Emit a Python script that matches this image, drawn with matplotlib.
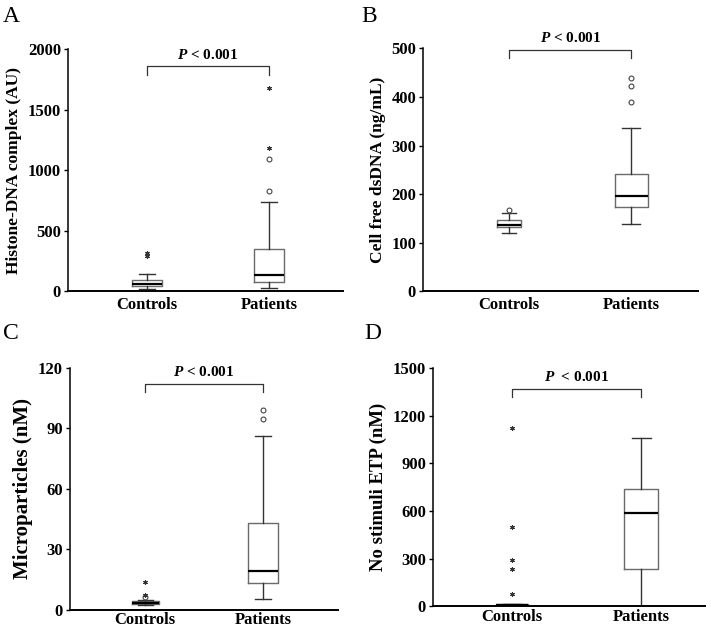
import matplotlib
matplotlib.use("Agg")
import matplotlib.pyplot as plt

plt.rcParams['font.family'] = ['Liberation Serif', 'DejaVu Serif']

groups = ["Controls", "Patients"]

# panel A - histone-DNA complex (AU)
a_whislo = [15, 25]
a_q1 = [47, 75]
a_med = [62, 135]
a_q3 = [95, 350]
a_whishi = [145, 740]
a_circles = [[], [825, 1090]]
a_stars = [[292, 318], [1185, 1680]]

# panel B - cell free dsDNA (ng/mL)
b_whislo = [119, 139]
b_q1 = [133, 174]
b_med = [136, 196]
b_q3 = [146, 242]
b_whishi = [162, 337]
b_circles = [[167], [389, 422, 440]]
b_stars = [[], []]

# panel C - microparticles (nM)
c_whislo = [2.0, 5.0]
c_q1 = [2.6, 13.4]
c_med = [3.0, 19.3]
c_q3 = [4.0, 43.0]
c_whishi = [4.6, 86.0]
c_circles = [[6.1], [94.8, 99.3]]
c_stars = [[7.3, 13.8], []]

# panel D - no stimuli ETP (nM)
d_whislo = [0, 5]
d_q1 = [4, 238]
d_med = [10, 588]
d_q3 = [16, 738]
d_whishi = [16, 1062]
d_circles = [[], []]
d_stars = [[75, 238, 292, 501, 1125], []]

panels = [
    dict(letter="A", ylabel="Histone-DNA complex (AU)", ymax=2000, ticks=[0, 500, 1000, 1500, 2000],
         whislo=a_whislo, q1=a_q1, med=a_med, q3=a_q3, whishi=a_whishi, circles=a_circles, stars=a_stars,
         rect=[0.0956, 0.537, 0.387, 0.385], xlim=(0.354, 2.606), widths=[0.25, 0.25],
         br=(1785, 1856), lfs=12.5, xpad=4, ptxt="$\\mathbfit{P}$ < 0.001"),
    dict(letter="B", ylabel="Cell free dsDNA (ng/mL)", ymax=500, ticks=[0, 100, 200, 300, 400, 500],
         whislo=b_whislo, q1=b_q1, med=b_med, q3=b_q3, whishi=b_whishi, circles=b_circles, stars=b_stars,
         rect=[0.595, 0.537, 0.387, 0.386], xlim=(0.294, 2.55), widths=[0.2, 0.27],
         br=(481, 497), lfs=12.5, xpad=4, ptxt="$\\mathbfit{P}$ < 0.001"),
    dict(letter="C", ylabel="Microparticles (nM)", ymax=120, ticks=[0, 30, 60, 90, 120],
         whislo=c_whislo, q1=c_q1, med=c_med, q3=c_q3, whishi=c_whishi, circles=c_circles, stars=c_stars,
         rect=[0.0985, 0.031, 0.377, 0.384], xlim=(0.364, 2.636), widths=[0.23, 0.25],
         br=(108, 112), lfs=15, xpad=2, ptxt="$\\mathbfit{P}$ < 0.001"),
    dict(letter="D", ylabel="No stimuli ETP (nM)", ymax=1500, ticks=[0, 300, 600, 900, 1200, 1500],
         whislo=d_whislo, q1=d_q1, med=d_med, q3=d_q3, whishi=d_whishi, circles=d_circles, stars=d_stars,
         rect=[0.609, 0.036, 0.383, 0.379], xlim=(0.39, 2.495), widths=[0.25, 0.26],
         br=(1316, 1366), lfs=13.5, xpad=2, ptxt="$\\mathbfit{P}$  < 0.001"),
]

plt.rcParams['mathtext.fontset'] = 'custom'
plt.rcParams['mathtext.bfit'] = 'Liberation Serif:bold:italic'

fig = plt.figure(figsize=(7.11, 6.29), dpi=100)

letter_pos = {"A": (0.004, 0.99), "B": (0.508, 0.99), "C": (0.004, 0.487), "D": (0.513, 0.487)}

for p in panels:
    ax = fig.add_axes(p["rect"])
    stats = []
    for i in range(2):
        stats.append(dict(whislo=p["whislo"][i], q1=p["q1"][i], med=p["med"][i],
                          q3=p["q3"][i], whishi=p["whishi"][i], fliers=[]))
    ax.bxp(stats, positions=[1, 2], widths=p["widths"], showfliers=False,
           boxprops=dict(color="#6a6a6a", lw=1.0),
           whiskerprops=dict(color="#333333", lw=1.0),
           capprops=dict(color="#333333", lw=1.0),
           medianprops=dict(color="black", lw=1.6),
           capwidths=[w * 0.55 for w in p["widths"]])
    for i in range(2):
        if p["circles"][i]:
            ax.plot([i + 1] * len(p["circles"][i]), p["circles"][i], "o", ms=3.5,
                    mfc="white", mec="#444444", mew=0.8, clip_on=False)
        if p["stars"][i]:
            ax.plot([i + 1] * len(p["stars"][i]), p["stars"][i], marker=(6, 2, 0), ls="none",
                    ms=3.2, color="#333333", mew=0.8, clip_on=False)

    # significance bracket
    y0, y1 = p["br"]
    ax.plot([1, 1, 2, 2], [y0, y1, y1, y0], color="#333333", lw=0.9, clip_on=False)
    ax.text(1.5, y1 + p["ymax"] * 0.02, p["ptxt"], ha="center", va="bottom",
            fontsize=11, fontweight="bold")

    ax.set_ylim(0, p["ymax"])
    ax.set_xlim(*p["xlim"])
    ax.set_yticks(p["ticks"])
    ax.set_xticks([1, 2])
    ax.set_xticklabels(groups)
    ax.set_ylabel(p["ylabel"], fontsize=p["lfs"], fontweight="bold", labelpad=4)
    ax.spines["top"].set_visible(False)
    ax.spines["right"].set_visible(False)
    ax.spines["left"].set_linewidth(1.1)
    ax.spines["bottom"].set_linewidth(1.4)
    ax.tick_params(axis="x", length=0, pad=p["xpad"], labelsize=12)
    ax.tick_params(axis="y", length=3, width=1, pad=2, labelsize=12)
    for lab in ax.get_xticklabels() + ax.get_yticklabels():
        lab.set_fontweight("bold")

    lx, ly = letter_pos[p["letter"]]
    fig.text(lx, ly, p["letter"], fontsize=17, ha="left", va="top")

fig.savefig("out.png", dpi=100)
